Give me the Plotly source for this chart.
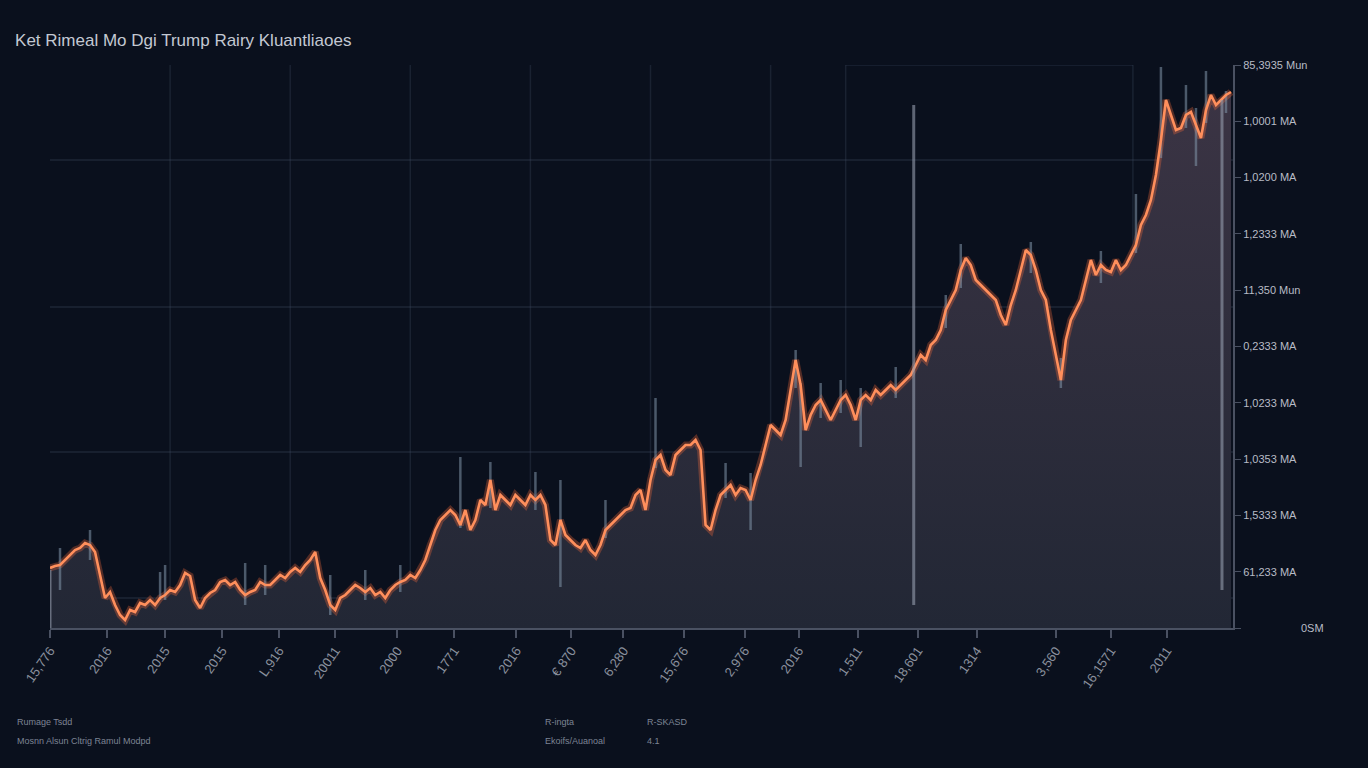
import plotly.graph_objects as go

# ---------------- data ----------------
day_index = list(range(237))
price = [60, 62, 63, 68, 73, 78, 80, 85, 83, 76, 53, 30, 36, 23, 13, 8, 18, 16, 25, 23,
         28, 23, 30, 33, 38, 36, 43, 55, 52, 28, 20, 30, 35, 38, 46, 48, 43, 46, 38, 33,
         36, 38, 46, 43, 43, 48, 53, 50, 56, 60, 56, 63, 68, 76, 50, 38, 23, 18, 30, 33,
         38, 43, 40, 36, 40, 33, 36, 30, 38, 43, 46, 48, 53, 50, 58, 68, 83, 98, 108, 113,
         118, 113, 103, 118, 98, 108, 128, 123, 148, 118, 133, 128, 123, 133, 128, 123, 133, 128, 133, 123,
         88, 83, 108, 93, 88, 83, 80, 88, 78, 73, 83, 98, 103, 108, 113, 118, 120, 133, 138, 118,
         148, 168, 173, 158, 153, 173, 178, 183, 183, 188, 178, 103, 98, 118, 133, 138, 143, 133, 140, 138,
         128, 148, 163, 183, 203, 198, 193, 208, 238, 268, 243, 198, 213, 223, 228, 218, 208, 218, 228, 233,
         223, 208, 228, 233, 228, 238, 233, 238, 243, 238, 243, 248, 253, 263, 273, 268, 283, 288, 298, 318,
         328, 338, 358, 370, 363, 348, 343, 338, 333, 328, 313, 303, 323, 338, 358, 378, 373, 358, 338, 328,
         298, 273, 248, 288, 308, 318, 328, 348, 368, 353, 363, 358, 356, 368, 358, 363, 373, 383, 403, 413,
         428, 453, 488, 528, 513, 498, 500, 513, 516, 503, 490, 518, 533, 523, 528, 533, 536]

spike_idx = [2, 8, 22, 23, 39, 43, 56, 63, 70, 82, 88, 97, 102, 111, 121, 135, 140, 149, 150, 154,
             158, 162, 169, 179, 182, 196, 202, 210, 217, 222, 227, 229, 231, 235]
spike_high = [80, 98, 56, 63, 65, 63, 53, 58, 63, 171, 166, 156, 148, 128, 230, 165, 155, 278, 245, 245,
              248, 240, 261, 333, 384, 386, 270, 377, 434, 561, 543, 520, 557, 537]
spike_low = [38, 68, 28, 28, 23, 33, 13, 28, 36, 100, 120, 118, 41, 90, 160, 130, 98, 240, 161, 210,
             215, 181, 230, 300, 340, 355, 240, 345, 375, 470, 500, 462, 505, 515]

x_tick_idx = [0, 11.4, 23, 34.4, 45.8, 57, 69.4, 80.8, 93.2, 104.2, 114.6, 126.6, 138.8, 149.6,
              161.4, 173.4, 185.2, 201, 212, 223.2]
x_tick_labels = ["15,776", "2016", "2015", "2015", "L,916", "20011", "2000", "1771", "2016", "€ 870",
                 "6,280", "15,676", "2,976", "2016", "1,511", "18,601", "1314", "3,560", "16,1571", "2011"]

y_tick_vals = [56.3 * i for i in range(11)]
y_tick_labels = ["", "61,233 MA", "1,5333 MA", "1,0353 MA", "1,0233 MA", "0,2333 MA",
                 "11,350 Mun", "1,2333 MA", "1,0200 MA", "1,0001 MA", "85,3935 Mun"]

grid_x = [24, 48, 72, 96, 120, 144, 159, 216.4]
grid_y = [30, 176, 321, 468]

marker_lines = [(0, 0, 58), (172.6, 23, 523), (234.2, 38, 528)]

title_text = "Ket Rimeal Mo Dgi Trump Rairy Kluantliaoes"
foot_left = ["Rumage Tsdd", "Mosnn Alsun Cltrig Ramul Modpd"]
foot_mid = ["R-ingta", "Ekoifs/Auanoal"]
foot_right = ["R-SKASD", "4.1"]

BG = "#0a101d"

# ---------------- figure ----------------
fig = go.Figure()

# filled area + glow
fig.add_trace(go.Scatter(
    x=day_index, y=price, mode="lines", fill="tozeroy",
    fillgradient=dict(type="vertical", colorscale=[[0, "#222735"], [1, "#3b3444"]]),
    line=dict(color="rgba(255,110,60,0.30)", width=7), hoverinfo="skip"))

# gray wicks
fig.add_trace(go.Scatter(
    x=spike_idx, y=spike_high, mode="markers", marker=dict(size=1, opacity=0),
    error_y=dict(type="data", symmetric=False, array=[0] * len(spike_idx),
                 arrayminus=[h - l for h, l in zip(spike_high, spike_low)],
                 color="rgba(130,150,170,0.55)", thickness=2.5, width=0),
    hoverinfo="skip"))

# main orange line
fig.add_trace(go.Scatter(
    x=day_index, y=price, mode="lines",
    line=dict(color="#ff8f5c", width=2.6), hoverinfo="skip"))

shapes = []
for gx in grid_x:
    shapes.append(dict(type="line", xref="x", yref="y", x0=gx, x1=gx, y0=0, y1=563,
                       line=dict(color="rgba(70,82,105,0.28)", width=1.5), layer="below"))
for gy in grid_y:
    shapes.append(dict(type="line", xref="x", yref="y", x0=0, x1=236.4, y0=gy, y1=gy,
                       line=dict(color="rgba(70,82,105,0.33)", width=1.5), layer="below"))
shapes.append(dict(type="line", xref="x", yref="y", x0=159, x1=216.4, y0=563, y1=563,
                   line=dict(color="rgba(70,82,105,0.30)", width=1.5), layer="below"))
for mx, y0, y1 in marker_lines:
    shapes.append(dict(type="line", xref="x", yref="y", x0=mx, x1=mx, y0=y0, y1=y1,
                       line=dict(color="rgba(150,158,175,0.6)", width=3)))

annotations = []
foot_font = dict(family="Liberation Sans, Arial", size=9, color="#7d8494")
for i, (a, b, c) in enumerate(zip(foot_left, foot_mid, foot_right)):
    yy = -0.167 - 0.034 * i
    annotations.append(dict(text=a, xref="paper", yref="paper", x=-0.0296, y=yy,
                            xanchor="left", yanchor="middle", showarrow=False, font=foot_font))
    annotations.append(dict(text=b, xref="paper", yref="paper", x=0.4167, y=yy,
                            xanchor="left", yanchor="middle", showarrow=False, font=foot_font))
    annotations.append(dict(text=c, xref="paper", yref="paper", x=0.503, y=yy,
                            xanchor="left", yanchor="middle", showarrow=False, font=foot_font))
annotations.append(dict(text="0SM", xref="paper", yref="paper", x=1.067, y=0,
                        xanchor="center", yanchor="middle", showarrow=False,
                        font=dict(family="Liberation Sans, Arial", size=11, color="#b8bcc6")))

fig.update_layout(
    width=1368, height=768,
    margin=dict(l=50, r=135, t=65, b=140),
    paper_bgcolor=BG, plot_bgcolor=BG,
    showlegend=False, hovermode=False,
    title=dict(text=title_text, x=0.011, y=0.948, xanchor="left", yanchor="middle",
               font=dict(family="Liberation Sans, Arial", size=17, color="#c3c8d2")),
    xaxis=dict(range=[0, 236.4], showgrid=False, zeroline=False,
               showline=True, linecolor="#4a5162", linewidth=2,
               ticks="outside", ticklen=8, tickcolor="#4a5162", tickwidth=1.5,
               tickvals=x_tick_idx, ticktext=x_tick_labels, tickangle=-55,
               tickfont=dict(family="Liberation Sans, Arial", size=13, color="#8a909e")),
    yaxis=dict(range=[0, 563], side="right", showgrid=False, zeroline=False,
               showline=True, linecolor="#4a5162", linewidth=2,
               ticks="outside", ticklen=6, tickcolor="#4a5162",
               tickvals=y_tick_vals, ticktext=y_tick_labels,
               tickfont=dict(family="Liberation Sans, Arial", size=11, color="#b8bcc6")),
    shapes=shapes, annotations=annotations,
)

fig.write_html(
    "out.html",
    config={"displayModeBar": False},
    post_script=f"document.body.style.margin='0';document.body.style.background='{BG}';"
                "document.body.style.overflow='hidden';",
)
